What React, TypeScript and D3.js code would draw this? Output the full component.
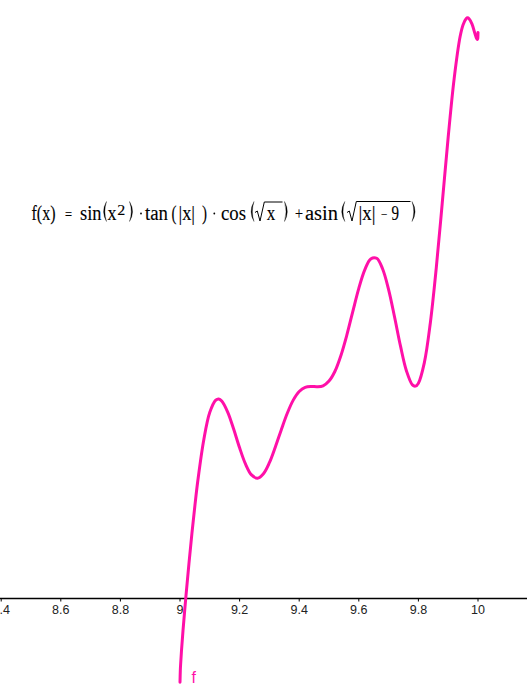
import React from "react";
import * as d3 from "d3";

const xValues = [
  9.0, 9.001, 9.002, 9.005, 9.01, 9.02, 9.03, 9.04, 9.05, 9.06, 9.08, 9.1, 9.12, 9.13, 9.14,
  9.16, 9.18, 9.2, 9.22, 9.24, 9.26, 9.28, 9.3, 9.32, 9.34, 9.36, 9.38, 9.4, 9.42, 9.44,
  9.46, 9.48, 9.5, 9.52, 9.54, 9.56, 9.58, 9.6, 9.62, 9.64, 9.66, 9.68, 9.7, 9.72, 9.74,
  9.76, 9.78, 9.79, 9.8, 9.82, 9.84, 9.86, 9.88, 9.9, 9.92, 9.94, 9.95, 9.96, 9.965, 9.97,
  9.98, 9.99, 9.995, 9.998, 9.999, 10.0,
];
const yValues = [
  -0.282, -0.244, -0.223, -0.176, -0.109, 0.008, 0.116, 0.218, 0.311, 0.396, 0.533, 0.624, 0.665, 0.669, 0.662,
  0.625, 0.568, 0.505, 0.45, 0.414, 0.403, 0.418, 0.455, 0.508, 0.566, 0.621, 0.665, 0.694, 0.708, 0.711,
  0.71, 0.713, 0.729, 0.762, 0.815, 0.884, 0.963, 1.04, 1.102, 1.139, 1.141, 1.105, 1.036, 0.944, 0.846,
  0.763, 0.716, 0.712, 0.722, 0.791, 0.924, 1.109, 1.326, 1.548, 1.744, 1.885, 1.925, 1.945, 1.948, 1.945,
  1.927, 1.894, 1.879, 1.875, 1.878, 1.899,
];

const tickValues = [8.4, 8.6, 8.8, 9, 9.2, 9.4, 9.6, 9.8, 10];
const tickLabels = ["8.4", "8.6", "8.8", "9", "9.2", "9.4", "9.6", "9.8", "10"];

const functionName = "f";
const W = 527;
const H = 699;
const CURVE = "#ff10a8";

function LParen({ l, r }: { l: number; r: number }) {
  return (
    <path
      d={`M${r},201.5 Q${l - 1.6},211.5 ${r},221.5 Q${l + 1},211.5 ${r},201.5 Z`}
      fill="#000"
      stroke="#000"
      strokeWidth={0.3}
    />
  );
}
function RParen({ l, r }: { l: number; r: number }) {
  return (
    <path
      d={`M${l},201.5 Q${r + 1.6},211.5 ${l},221.5 Q${r - 1},211.5 ${l},201.5 Z`}
      fill="#000"
      stroke="#000"
      strokeWidth={0.3}
    />
  );
}

export default function App() {
  const xScale = d3.scaleLinear().domain([9, 10]).range([180, 478]);
  const yScale = d3.scaleLinear().domain([0, 1]).range([598.3, 300.3]);
  const pts: [number, number][] = xValues.map((x, i) => [x, yValues[i]]);
  const line = d3
    .line<[number, number]>()
    .x((d) => xScale(d[0]))
    .y((d) => yScale(d[1]))
    .curve(d3.curveCatmullRom.alpha(0.5));
  const axisY = 598.5;

  const serif = "'Liberation Serif', serif";
  const fs = 20;
  const base = 219.5;

  return (
    <svg
      width={W}
      height={H}
      style={{ position: "absolute", left: 0, top: 0, background: "#fff" }}
      xmlns="http://www.w3.org/2000/svg"
    >
      {/* x axis */}
      <line x1={0} x2={W} y1={axisY} y2={axisY} stroke="#000" strokeWidth={1.3} />
      {tickValues.map((t, i) => (
        <g key={i}>
          <line x1={xScale(t)} x2={xScale(t)} y1={axisY} y2={axisY + 3} stroke="#000" strokeWidth={1} />
          <text
            x={xScale(t)}
            y={614}
            textAnchor="middle"
            fontFamily="'Liberation Sans', Arial, sans-serif"
            fontSize={12.5}
            fill="#222"
          >
            {tickLabels[i]}
          </text>
        </g>
      ))}

      {/* curve */}
      <path
        d={line(pts) || ""}
        fill="none"
        stroke={CURVE}
        strokeWidth={3}
        strokeLinecap="round"
        strokeLinejoin="round"
      />
      <text x={191.5} y={683} fontFamily="'Liberation Sans', Arial, sans-serif" fontSize={16} fill={CURVE}>
        {functionName}
      </text>

      {/* formula */}
      <g fontFamily={serif} fill="#000" stroke="#000" strokeWidth={0.12}>
        <text x={31.5} y={base} fontSize={fs} textLength={24} lengthAdjust="spacingAndGlyphs">f(x)</text>
        <text x={65} y={base} fontSize={16} textLength={7} lengthAdjust="spacingAndGlyphs">=</text>
        <text x={80} y={base} fontSize={fs} textLength={21.5} lengthAdjust="spacingAndGlyphs">sin</text>
        <LParen l={102.3} r={106.5} />
        <text x={107.5} y={base} fontSize={fs} textLength={9} lengthAdjust="spacingAndGlyphs">x</text>
        <text x={117.3} y={base - 5} fontSize={15} textLength={8} lengthAdjust="spacingAndGlyphs">2</text>
        <RParen l={129.5} r={134} />
        <circle cx={141} cy={213.5} r={0.9} fill="#000" stroke="none" />
        <text x={145} y={base} fontSize={fs} textLength={23} lengthAdjust="spacingAndGlyphs">tan</text>
        <text x={171.5} y={base} fontSize={fs} textLength={5} lengthAdjust="spacingAndGlyphs">(</text>
        <text x={178.5} y={base} fontSize={fs} textLength={16.5} lengthAdjust="spacingAndGlyphs">|x|</text>
        <text x={202} y={base} fontSize={fs} textLength={5} lengthAdjust="spacingAndGlyphs">)</text>
        <circle cx={214.3} cy={213.5} r={0.9} fill="#000" stroke="none" />
        <text x={221} y={base} fontSize={fs} textLength={25} lengthAdjust="spacingAndGlyphs">cos</text>
        <LParen l={249.8} r={254} />
        <path d="M255,212.5 L257.3,211 L260,221 L264.3,202 L282.5,202" fill="none" stroke="#000" strokeWidth={1} />
        <text x={266.7} y={base} fontSize={fs} textLength={8.5} lengthAdjust="spacingAndGlyphs">x</text>
        <RParen l={284.5} r={288.5} />
        <text x={295} y={base - 0.5} fontSize={17} textLength={8} lengthAdjust="spacingAndGlyphs">+</text>
        <text x={305} y={base} fontSize={fs} textLength={33} lengthAdjust="spacingAndGlyphs">asin</text>
        <LParen l={340.3} r={344.8} />
        <path d="M347,212.5 L349.3,211 L352,221 L356.3,201.5 L410.5,201.5" fill="none" stroke="#000" strokeWidth={1} />
        <text x={358.5} y={base} fontSize={fs} textLength={17} lengthAdjust="spacingAndGlyphs">|x|</text>
        <text x={381} y={base - 1} fontSize={14} textLength={6.5} lengthAdjust="spacingAndGlyphs">−</text>
        <text x={391.5} y={base} fontSize={fs} textLength={7.5} lengthAdjust="spacingAndGlyphs">9</text>
        <RParen l={412} r={416.5} />
      </g>
    </svg>
  );
}
